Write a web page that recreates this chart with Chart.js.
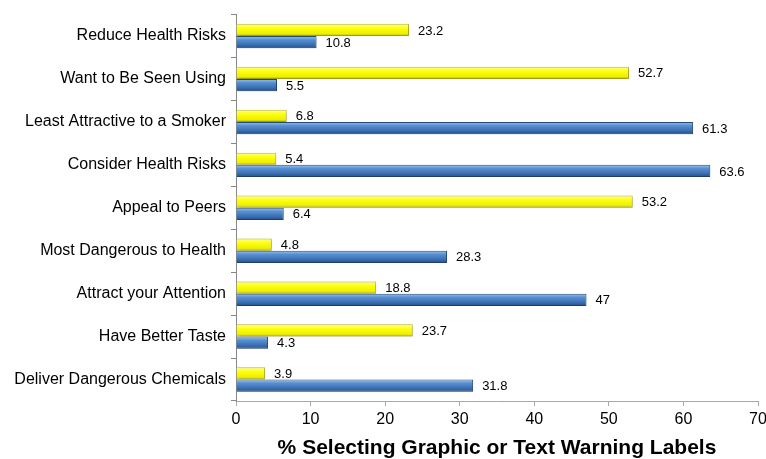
<!DOCTYPE html>
<html>
<head>
<meta charset="utf-8">
<title>Warning labels</title>
<script src="https://cdn.jsdelivr.net/npm/chart.js@4.4.1/dist/chart.umd.min.js"></script>
<style>
  html, body { margin: 0; padding: 0; background: #fff; }
  #wrap { width: 766px; height: 459px; position: relative; }
</style>
</head>
<body>
<div id="wrap"><canvas id="chart"></canvas></div>
<script>
// Categories, top to bottom
const categories = [
  'Reduce Health Risks',
  'Want to Be Seen Using',
  'Least Attractive to a Smoker',
  'Consider Health Risks',
  'Appeal to Peers',
  'Most Dangerous to Health',
  'Attract your Attention',
  'Have Better Taste',
  'Deliver Dangerous Chemicals'
];

// Yellow bars (upper bar of each pair)
const yellowValues = [23.2, 52.7, 6.8, 5.4, 53.2, 4.8, 18.8, 23.7, 3.9];
// Blue bars (lower bar of each pair)
const blueValues = [10.8, 5.5, 61.3, 63.6, 6.4, 28.3, 47, 4.3, 31.8];

const xTicks = [0, 10, 20, 30, 40, 50, 60, 70];
const xTitle = '% Selecting Graphic or Text Warning Labels';

const FONT = "'Liberation Sans', Arial, Helvetica, sans-serif";
const CAT_PCT = 0.57;

const YELLOW_STOPS = [[0, '#ffff9a'], [0.35, '#ffff10'], [0.8, '#eeee00'], [1, '#b8b800']];
const BLUE_STOPS = [[0, '#9fc4ee'], [0.3, '#5790d2'], [0.7, '#3b70b3'], [1, '#234e88']];

/**
 * Vertical gradient for one bar, worked out from the category scale
 */
function barGradient(context, stops, flat) {
  const chart = context.chart;
  const yScale = chart.scales.y;
  if (!chart.chartArea || !yScale || context.dataIndex === undefined) return flat;
  const center = yScale.getPixelForValue(context.dataIndex);
  const half = (yScale.height / categories.length) * CAT_PCT / 2;
  const top = context.datasetIndex === 0 ? center - half : center;
  const g = chart.ctx.createLinearGradient(0, top, 0, top + half);
  stops.forEach(s => g.addColorStop(s[0], s[1]));
  return g;
}

// Soft shadow under the bars
const barShadow = {
  id: 'barShadow',
  beforeDatasetsDraw(chart) {
    const ctx = chart.ctx;
    ctx.save();
    ctx.shadowColor = 'rgba(0,0,0,0.22)';
    ctx.shadowOffsetY = 2;
    ctx.shadowOffsetX = 1;
    ctx.shadowBlur = 3;
  },
  afterDatasetsDraw(chart) {
    chart.ctx.restore();
  }
};

// Value labels to the right of each bar
const valueLabels = {
  id: 'valueLabels',
  afterDatasetsDraw(chart) {
    const ctx = chart.ctx;
    ctx.save();
    ctx.font = '13px ' + FONT;
    ctx.fillStyle = '#000';
    ctx.textAlign = 'left';
    ctx.textBaseline = 'middle';
    chart.data.datasets.forEach((ds, i) => {
      const meta = chart.getDatasetMeta(i);
      meta.data.forEach((el, j) => {
        ctx.fillText(String(ds.data[j]), el.x + 9, el.y + 1);
      });
    });
    ctx.restore();
  }
};

new Chart(document.getElementById('chart'), {
  type: 'bar',
  data: {
    labels: categories,
    datasets: [{
      label: 'Yellow',
      data: yellowValues,
      backgroundColor: (c) => barGradient(c, YELLOW_STOPS, '#ffff00'),
      borderColor: '#b9b92a',
      borderWidth: 1,
      barPercentage: 1,
      categoryPercentage: CAT_PCT
    }, {
      label: 'Blue',
      data: blueValues,
      backgroundColor: (c) => barGradient(c, BLUE_STOPS, '#4a7fc0'),
      borderColor: '#244a7a',
      borderWidth: 1,
      barPercentage: 1,
      categoryPercentage: CAT_PCT
    }]
  },
  options: {
    indexAxis: 'y',
    responsive: true,
    maintainAspectRatio: false,
    animation: false,
    layout: { padding: { left: 0, right: 8, top: 12, bottom: 0 } },
    plugins: {
      legend: { display: false },
      tooltip: { enabled: false }
    },
    scales: {
      x: {
        min: 0,
        max: 70,
        afterFit(scale) {
          scale.height = 58;
          scale.paddingRight = 0;
        },
        afterBuildTicks(scale) { scale.ticks = xTicks.map(v => ({ value: v })); },
        grid: { drawOnChartArea: false, drawTicks: true, tickLength: 5, color: '#a8a8a8' },
        border: { color: '#a8a8a8' },
        ticks: { padding: 4, color: '#000', font: { family: FONT, size: 16 } },
        title: {
          display: true,
          text: xTitle,
          color: '#000',
          padding: { top: 0, bottom: -2 },
          font: { family: FONT, size: 21, weight: 'bold' }
        }
      },
      y: {
        afterFit(scale) { scale.width = 236; },
        grid: { drawOnChartArea: false, drawTicks: true, tickLength: 5, color: '#888', offset: true },
        border: { color: '#888' },
        ticks: { padding: 5, color: '#000', font: { family: FONT, size: 16 } }
      }
    }
  },
  plugins: [barShadow, valueLabels]
});
</script>
</body>
</html>
